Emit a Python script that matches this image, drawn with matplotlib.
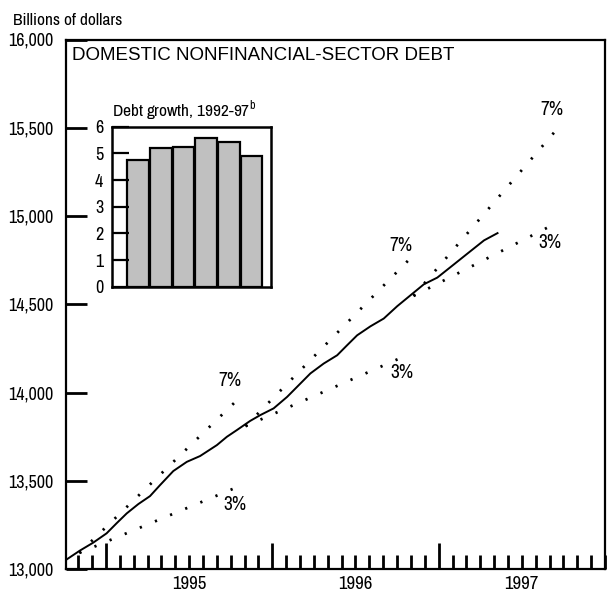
import matplotlib
matplotlib.use('Agg')
import matplotlib.pyplot as plt
from matplotlib import font_manager
from matplotlib.ticker import FuncFormatter, MultipleLocator
import numpy as np

# pick a condensed sans, like the one used in the original
have = {f.name for f in font_manager.fontManager.ttflist}
narrow = 'DejaVu Sans'
for cand in ['Liberation Sans Narrow', 'Arial Narrow', 'Archivo Narrow', 'Roboto Condensed',
             'PT Sans Narrow', 'Pragati Narrow', 'Encode Sans Condensed', 'Sofia Sans Condensed']:
    if cand in have:
        narrow = cand
        break

matplotlib.rcParams['font.family'] = [narrow, 'DejaVu Sans']
matplotlib.rcParams['mathtext.fontset'] = 'custom'
matplotlib.rcParams['mathtext.rm'] = narrow

# actual debt, fractional year vs billions of dollars
debt_year = [1994.759, 1994.843, 1994.923, 1995.004, 1995.064, 1995.125, 1995.195,
             1995.265, 1995.325, 1995.405, 1995.486, 1995.566, 1995.667, 1995.727,
             1995.787, 1995.867, 1995.928, 1996.008, 1996.089, 1996.149, 1996.229,
             1996.309, 1996.390, 1996.450, 1996.510, 1996.590, 1996.670, 1996.751,
             1996.831, 1996.911, 1996.992, 1997.072, 1997.173, 1997.273, 1997.354]
debt_value = [13051, 13104, 13149, 13202, 13259, 13315, 13368,
              13413, 13475, 13555, 13607, 13640, 13702, 13749,
              13787, 13839, 13872, 13910, 13975, 14032, 14108,
              14164, 14211, 14268, 14324, 14375, 14419, 14489,
              14551, 14613, 14651, 14711, 14787, 14862, 14903]

# growth-path start points and ends (7% and 3% a year)
path_start_year = [1994.84, 1995.839, 1996.849]
path_start_value = [13091, 13809, 14547]
path7_end_year = [1995.827, 1996.837, 1997.747]
path7_end_value = [13992, 14767, 15531]
path3_end_year = [1995.817, 1996.82, 1997.72]
path3_end_value = [13475, 14216, 14966]

# label positions
lab7_year = [1995.747, 1996.771, 1997.679]
lab7_value = [14066, 14834, 15603]
lab3_year = [1995.777, 1996.781, 1997.670]
lab3_value = [13368, 14111, 14849]

# inset: debt growth by year
growth_years = ['1992', '1993', '1994', '1995', '1996', '1997']
growth_pct = [4.75, 5.22, 5.25, 5.58, 5.42, 4.9]

fig = plt.figure(figsize=(6.08, 5.96), dpi=100)
ax = fig.add_axes([66 / 608, 1 - 569 / 596, 539 / 608, 529.5 / 596])

ax.plot(debt_year, debt_value, color='black', lw=1.4)
for i in range(len(path_start_year)):
    ax.plot([path_start_year[i], path7_end_year[i]], [path_start_value[i], path7_end_value[i]],
            color='black', lw=2.0, linestyle=(0, (0.8, 5.1)))
    ax.plot([path_start_year[i], path3_end_year[i]], [path_start_value[i], path3_end_value[i]],
            color='black', lw=2.0, linestyle=(0, (0.8, 5.1)))
    ax.text(lab7_year[i], lab7_value[i], '7%', fontsize=14, ha='center', va='center')
    ax.text(lab3_year[i], lab3_value[i], '3%', fontsize=14, ha='center', va='center')

ax.set_xlim(1994.76, 1998.0)
ax.set_ylim(13000, 16000)

ax.yaxis.set_major_locator(MultipleLocator(500))
ax.yaxis.set_major_formatter(FuncFormatter(lambda v, p: f'{int(v):,}'))
ax.tick_params(axis='y', direction='in', length=15, width=2, labelsize=13, pad=9)

ax.set_xticks([1995, 1996, 1997])
ax.set_xticklabels([])
ax.xaxis.set_minor_locator(MultipleLocator(1 / 12))
ax.tick_params(axis='x', which='major', direction='in', length=19, width=2)
ax.tick_params(axis='x', which='minor', direction='in', length=10, width=2)

sec = ax.secondary_xaxis('bottom')
sec.set_xticks([1995.5, 1996.5, 1997.5])
sec.set_xticklabels(['1995', '1996', '1997'])
sec.tick_params(length=0, labelsize=13.5, pad=5)
sec.spines['bottom'].set_visible(False)

for s in ax.spines.values():
    s.set_linewidth(1.6)

ax.text(0.0115, 0.969, 'DOMESTIC NONFINANCIAL-SECTOR DEBT', transform=ax.transAxes,
        family=['Liberation Sans', 'DejaVu Sans'], fontsize=13.5, ha='left', va='center')
fig.text(0.021, 0.9656, 'Billions of dollars', fontsize=12.5, ha='left', va='center')

# inset bar chart
ins = fig.add_axes([111.7 / 608, 1 - 286.7 / 596, 159 / 608, 160 / 596])
xb = np.arange(len(growth_years))
ins.bar(xb, growth_pct, width=0.95, color='#c0c0c0', edgecolor='black', linewidth=1.6)
ins.set_xlim(-1.16, 5.84)
ins.set_ylim(0, 6)
ins.set_xticks([])
ins.set_yticks(range(7))
ins.tick_params(axis='y', direction='in', length=12, width=1.6, labelsize=13, pad=6)
for s in ins.spines.values():
    s.set_linewidth(1.8)
ins.text(0.0, 1.03, r'Debt growth, 1992-97$^{\mathrm{b}}$', transform=ins.transAxes,
         fontsize=12.5, ha='left', va='bottom')

fig.savefig('out.png', dpi=100)
